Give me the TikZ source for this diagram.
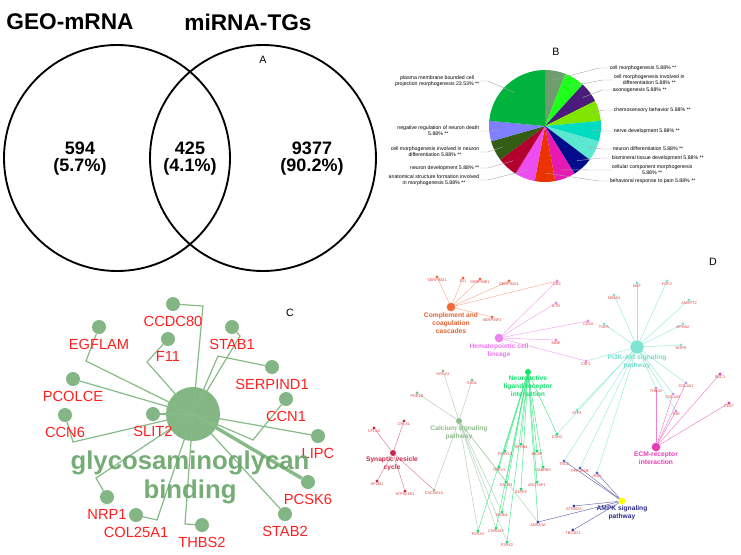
\documentclass[tikz,border=0pt]{standalone}
\usepackage{fontspec}
\setmainfont{Liberation Sans}
\usetikzlibrary{calc,backgrounds}

\definecolor{cgreen}{HTML}{84B584}
\definecolor{cline}{HTML}{86BA86}
\definecolor{cword}{HTML}{6AA66A}
\definecolor{cred}{HTML}{FF1F1F}
\definecolor{cpieA}{HTML}{6E9E6E}
\definecolor{cpieB}{HTML}{1EFF1E}
\definecolor{cpieC}{HTML}{4B1B7B}
\definecolor{cpieD}{HTML}{80E600}
\definecolor{cpieE}{HTML}{00DCC0}
\definecolor{cpieF}{HTML}{5CE8D0}
\definecolor{cpieG}{HTML}{000C8C}
\definecolor{cpieH}{HTML}{E619B3}
\definecolor{cpieI}{HTML}{EB3300}
\definecolor{cpieJ}{HTML}{EB4DF0}
\definecolor{cpieK}{HTML}{B3002D}
\definecolor{cpieL}{HTML}{335C14}
\definecolor{cpieM}{HTML}{7F7FFF}
\definecolor{cpieN}{HTML}{00B33C}
\definecolor{dcmp}{HTML}{F26B38}
\definecolor{dhem}{HTML}{EE82EE}
\definecolor{dpik}{HTML}{7FE5D2}
\definecolor{dnla}{HTML}{12E26A}
\definecolor{dcal}{HTML}{8FBC8F}
\definecolor{dsyn}{HTML}{C8284B}
\definecolor{decm}{HTML}{E63CB4}
\definecolor{dmix}{HTML}{B89AE0}
\definecolor{damp}{HTML}{FFFF00}
\definecolor{dampt}{HTML}{2B2B8C}
\definecolor{dampg}{HTML}{3545A5}
\definecolor{damb}{HTML}{4A6ACC}
\definecolor{dgene}{HTML}{E03C3C}

\begin{document}
\begin{tikzpicture}[x=0.75pt,y=-0.75pt,
  venn/.style={circle,draw,line width=1.4pt,minimum size=169.5pt,inner sep=0pt},
  vtitle/.style={font=\bfseries\fontsize{17}{20}\selectfont},
  vnum/.style={font=\bfseries\fontsize{13.5}{12.8}\selectfont,align=center},
  tag/.style={font=\fontsize{8}{9}\selectfont},
  pielbl/.style={font=\fontsize{3.9}{4.5}\selectfont,align=center,inner sep=0.4pt},
  lead/.style={draw=gray!70,line width=0.3pt},
  chub/.style={circle,fill=cgreen,minimum size=40.5pt,inner sep=0pt},
  cgene/.style={circle,fill=cgreen,minimum size=10.5pt,inner sep=0pt},
  clbl/.style={text=cred,font=\fontsize{11}{13}\selectfont,inner sep=0pt},
  clink/.style={draw=cline,line width=0.9pt},
  dhub/.style={circle,inner sep=0pt},
  dgene/.style={circle,inner sep=0pt,minimum size=2.5pt,label distance=0.9pt},
  dlbl/.style={text=dgene,font=\fontsize{2.9}{3.4}\selectfont,inner sep=0pt},
  dname/.style={font=\bfseries\fontsize{5}{6}\selectfont,align=center,inner sep=0pt,anchor=north},
  dlink/.style={line width=0.35pt}]
\useasboundingbox (0,0) rectangle (741,554);

% A
\node[venn] (geo) at (117,158) {};
\node[venn] (mir) at (263,158) {};
\node[vtitle] (tgeo) at (70,22) {GEO-mRNA};
\node[vtitle] (tmir) at (248,22) {miRNA-TGs};
\node[vnum] (nl) at (80,159) {594\\(5.7\%)};
\node[vnum] (nm) at (190,159) {425\\(4.1\%)};
\node[vnum] (nr) at (312,159) {9377\\(90.2\%)};
\node[tag] (ta) at (263,60) {A};

% B
\coordinate (pc) at (545,126);
\foreach \c [count=\i from 0] in {cpieA,cpieB,cpieC,cpieD,cpieE,cpieF,cpieG,cpieH,cpieI,cpieJ,cpieK,cpieL,cpieM}
  \fill[\c] (pc) -- ++({-90+21.18*\i}:56) arc[start angle={-90+21.18*\i}, delta angle=21.18, radius=56] -- cycle;
\fill[cpieN] (pc) -- ++(185.34:56) arc[start angle=185.34, end angle=270, radius=56] -- cycle;
\foreach \i in {0,...,12}
  \coordinate (m\i) at ($(pc)+({-90+21.18*(\i+0.5)}:47)$);
\coordinate (m13) at ($(pc)+(227.7:45)$);
\node[tag] (tb) at (556,52) {B};

\foreach \i/\lx/\ly/\t in {0/609/68/{cell morphogenesis 5.88\% **},
  1/613/80/{cell morphogenesis involved in\\differentiation 5.88\% **},
  2/612/90/{axonogenesis 5.88\% **},
  3/613/110/{chemosensory behavior 5.88\% **},
  4/613/131/{nerve development 5.88\% **},
  5/612/149/{neuron differentiation 5.88\% **},
  6/611/158/{biomineral tissue development 5.88\% **},
  7/611/170/{cellular component morphogenesis\\5.88\% **},
  8/609/181/{behavioral response to pain 5.88\% **}}
{
  \node[pielbl,anchor=west] (b\i) at (\lx,\ly) {\t};
  \draw[lead] (b\i.west) -- ++(-10,0) -- (m\i);
}
\foreach \i/\ly/\t in {9/180/{anatomical structure formation involved\\in morphogenesis 5.88\% **},
  10/168/{neuron development 5.88\% **},
  11/152/{cell morphogenesis involved in neuron\\differentiation 5.88\% **},
  12/131/{negative regulation of neuron death\\5.88\% **},
  13/81/{plasma membrane bounded cell\\projection morphogenesis 23.53\% **}}
{
  \node[pielbl,anchor=east] (b\i) at (480,\ly) {\t};
  \draw[lead] (b\i.east) -- ++(8,0) -- (m\i);
}

% C
\node[chub] (gag) at (193,414) {};
\foreach \n/\x/\y in {ccdc/173/304, egfl/99/327, f11/168/339, stab1/232/327, serp/272/367, pcol/73/379,
  ccn1/286/399, ccn6/65/415, slit/153/414, lipc/318/436, pcsk/308/482, nrp1/107/497, col25/136/515,
  thbs/202/525, stab2/285/514}
  \node[cgene] (\n) at (\x,\y) {};
\foreach \n/\bx/\by in {ccdc/203/306, egfl/86/361, f11/147/362, stab1/240/336, serp/218/356,
  ccn6/73/442, ccn1/253/440, thbs/185/524, col25/157/520, nrp1/96/478}
  \draw[clink] (\n) -- (\bx,\by) -- (gag.center);
\foreach \n in {pcol,slit,lipc,stab2}
  \draw[clink] (\n) -- (gag.center);
\draw[clink,line width=2.6pt] (pcsk) -- (gag.center);
\foreach \n/\t in {ccdc/CCDC80, egfl/EGFLAM, f11/F11, stab1/STAB1, serp/SERPIND1, pcol/PCOLCE, ccn1/CCN1,
  ccn6/CCN6, slit/SLIT2, lipc/LIPC, pcsk/PCSK6, nrp1/NRP1, col25/COL25A1, thbs/THBS2, stab2/STAB2}
  \node[clbl] (\n-t) at ($(\n)+(0,17.5)$) {\t};
\node[text=cword,font=\bfseries\fontsize{19.3}{21.8}\selectfont,align=center,opacity=0.92] (gagt) at (190,477) {glycosaminoglycan\\binding};
\node[tag] (tc) at (290,313) {C};

% D
\node[dhub,fill=dcmp,minimum size=6.5pt] (hcmp) at (451,307) {};
\node[dhub,fill=dhem,minimum size=6.5pt] (hhem) at (499,338) {};
\node[dhub,fill=dpik,minimum size=10pt] (hpik) at (637,347) {};
\node[dhub,fill=dnla,minimum size=4.5pt] (hnla) at (528,372) {};
\node[dhub,fill=dcal,minimum size=4.5pt] (hcal) at (459,421) {};
\node[dhub,fill=dsyn,minimum size=4.5pt] (hsyn) at (393,453) {};
\node[dhub,fill=decm,minimum size=6.5pt] (hecm) at (656,447) {};
\node[dhub,fill=damp,minimum size=5pt] (hamp) at (622,501) {};

\node[dname,text=dcmp!92!black] (tcmp) at (451,312) {Complement and\\coagulation\\cascades};
\node[dname,text=dhem!90!magenta] (them) at (499,343) {Hematopoietic cell\\lineage};
\node[dname,text=dpik!92!teal] (tpik) at (637,354) {PI3K-Akt signaling\\pathway};
\node[dname,text=dnla] (tnla) at (528,375) {Neuroactive\\ligand-receptor\\interaction};
\node[dname,text=dcal] (tcal) at (459,425) {Calcium signaling\\pathway};
\node[dname,text=dsyn] (tsyn) at (392,456) {Synaptic vesicle\\cycle};
\node[dname,text=decm] (tecm) at (656,452) {ECM-receptor\\interaction};
\node[dname,text=dampt] (tamp) at (622,505) {AMPK signaling\\pathway};

\foreach \n/\x/\y/\c/\t in {
  serpd/437/277/dcmp/SERPIND1, f11d/463/278/dcmp/F11, serpe/480/279/dcmp/SERPINE1,
  serpg/509/281/dcmp/SERPING1, serpf/492/317/dcmp/SERPINF2,
  cr2/557/281/dhem/CR2, il7r/556/303/dhem/IL7R, mme/556/340/dhem/MME, cd34/588/321/dhem/CD34, csf1/586/361/dhem/CSF1,
  nr4a1/614/295/dpik/NR4A1, ngf/637/283/dpik/NGF, fgf2/667/281/dpik/FGF2, angpt2/689/300/dpik/ANGPT2,
  tgfa/604/324/dpik/TGFA, epha2/683/324/dpik/EPHA2, ngfr/681/345/dpik/NGFR, atf4/577/410/dpik/ATF4,
  thbsd/656/388/dmix/THBS2, col4a2/673/394/dmix/COL4A2, col4a1/686/383/dmix/COL4A1, tnr/676/411/dmix/TNR,
  sdc1/720/374/decm/SDC1, cd47/729/403/decm/CD47,
  p2ry13/505/451/dnla/P2RY13, gpr84/521/444/dnla/GPR84, mc2r/537/451/dnla/MC2R, trpv1/499/467/dnla/TRPV1,
  gabrb3/543/467/dnla/GABRB3, galr3/506/482/dnla/GALR3, adcyap1/537/482/dnla/ADCYAP1, s1pr2/521/489/dnla/S1PR2,
  csh2/557/434/dnla/CSH2, grin1/502/512/dnla/GRIN1, p2rx3/478/531/dnla/P2RX3, chrna7/496/528/dnla/CHRNA7,
  p2rx2/507/542/dnla/P2RX2,
  mylk3/443/371/dcal/MYLK3, gnal/472/380/dcal/GNAL, pde1b/417/393/dcal/PDE1B, cacna1a/434/490/dcal/CACNA1A,
  cplx1/404/421/dsyn/CPLX1, cplx2/374/428/dsyn/CPLX2, ap2m1/377/481/dsyn/AP2M1, atp6v1b1/405/491/dsyn/ATP6V1B1,
  tsc2/564/461/damb/TSC2, ppp2r2b/580/468/damb/PPP2R2B, irs1/597/473/damb/IRS1,
  strada/574/506/dampg/STRADA, tbc1d1/573/530/dampg/TBC1D1, adra1a/538/522/dampg/ADRA1A}
  \node[dgene,fill=\c,label={[dlbl]below:\t}] (\n) at (\x,\y) {};

\begin{scope}[on background layer]
\foreach \g in {serpd,f11d,serpe,serpg,serpf,cr2}
  \draw[dlink,dcmp!55] (hcmp) -- (\g);
\foreach \g in {cr2,il7r,mme,cd34,csf1}
  \draw[dlink,dhem!75] (hhem) -- (\g);
\foreach \g in {nr4a1,ngf,fgf2,angpt2,tgfa,epha2,ngfr,csf1,atf4,csh2,thbsd,col4a2,col4a1,tnr,tsc2,ppp2r2b,irs1}
  \draw[dlink,dpik!80] (hpik) -- (\g);
\foreach \g in {thbsd,col4a2,col4a1,tnr,sdc1,cd47}
  \draw[dlink,decm!65] (hecm) -- (\g);
\foreach \g in {p2ry13,gpr84,mc2r,trpv1,gabrb3,galr3,adcyap1,s1pr2,csh2,grin1,p2rx3,chrna7,p2rx2,adra1a}
  \draw[dlink,dnla!80] (hnla) -- (\g);
\foreach \g in {mylk3,gnal,pde1b,cacna1a,galr3,grin1,p2rx3,chrna7,p2rx2,adra1a}
  \draw[dlink,dcal!70] (hcal) -- (\g);
\foreach \g in {cplx1,cplx2,ap2m1,atp6v1b1,cacna1a}
  \draw[dlink,dsyn!60] (hsyn) -- (\g);
\foreach \g in {tsc2,ppp2r2b,irs1,strada,tbc1d1,adra1a}
  \draw[dlink,dampt!70] (hamp) -- (\g);
\end{scope}
\node[tag] (td) at (713,262) {D};
\end{tikzpicture}
\end{document}
